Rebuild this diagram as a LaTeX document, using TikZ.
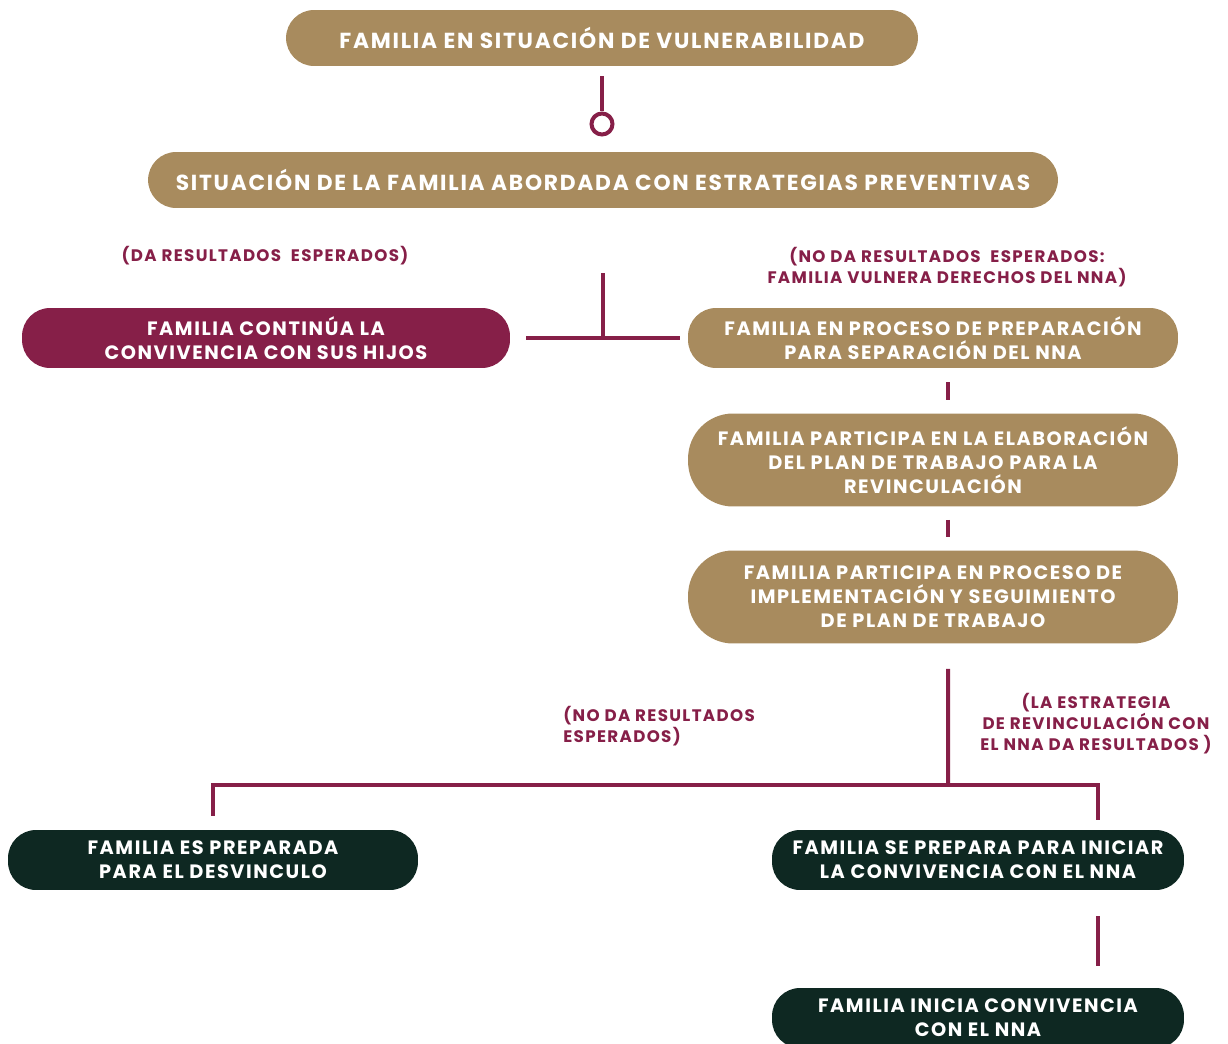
\documentclass[tikz,border=0pt]{standalone}
\usepackage{fontspec}
\setmainfont{Poppins}
\newfontfamily\cajafont{Poppins}[LetterSpace=8]
\usetikzlibrary{calc}
\definecolor{oro}{RGB}{168,139,94}
\definecolor{vino}{RGB}{134,31,72}
\definecolor{verde}{RGB}{14,40,34}
\begin{document}
\begin{tikzpicture}[x=0.02cm,y=-0.02cm,
    every node/.style={align=center, inner sep=0pt},
    caja/.style={rounded corners=0.56cm, text=white, minimum height=1.2cm,
        font=\cajafont\bfseries\fontsize{11}{13.6}\selectfont},
    titulo/.style={caja, fill=oro, minimum height=1.12cm,
        font=\cajafont\bfseries\fontsize{12.4}{13.6}\selectfont},
    cajaoro/.style={caja, fill=oro},
    cajavino/.style={caja, fill=vino},
    cajaverde/.style={caja, fill=verde},
    nota/.style={text=vino, font=\cajafont\bfseries\fontsize{9.5}{11.9}\selectfont},
    linea/.style={draw=vino, line width=0.08cm},
    anillo/.style={circle, draw=vino, line width=0.08cm, fill=white, minimum size=0.42cm}]
    \useasboundingbox (0,0) rectangle (1228,1044);

    \node[titulo, minimum width=12.64cm] (t1) at (602,38)
        {FAMILIA EN SITUACIÓN DE VULNERABILIDAD};
    \node[titulo, minimum width=18.2cm] (t2) at (603,180)
        {SITUACIÓN DE LA FAMILIA ABORDADA CON ESTRATEGIAS PREVENTIVAS};
    \node[anillo] (r1) at (602,124) {};
    \draw[linea, shorten <=0.2cm] (t1.south) -- (r1.north);

    \node[nota] (n1) at (265,256) {(DA RESULTADOS\ \ ESPERADOS)};
    \node[nota] (n2) at (947,267) {(NO DA RESULTADOS\ \ ESPERADOS:\\FAMILIA VULNERA DERECHOS DEL NNA)};

    \node[cajavino, minimum width=9.76cm] (f1) at (266,338)
        {FAMILIA CONTINÚA LA\\CONVIVENCIA CON SUS HIJOS};
    \node[cajaoro, minimum width=9.8cm] (f2) at (933,338)
        {FAMILIA EN PROCESO DE PREPARACIÓN\\PARA SEPARACIÓN DEL NNA};
    \node[cajaoro, minimum width=9.8cm, minimum height=1.86cm, rounded corners=0.9cm] (f3) at (933,460)
        {FAMILIA PARTICIPA EN LA ELABORACIÓN\\DEL PLAN DE TRABAJO PARA LA\\REVINCULACIÓN};
    \node[cajaoro, minimum width=9.8cm, minimum height=1.86cm, rounded corners=0.9cm] (f4) at (933,597)
        {FAMILIA PARTICIPA EN PROCESO DE\\IMPLEMENTACIÓN Y SEGUIMIENTO\\DE PLAN DE TRABAJO};

    \draw[linea, shorten <=1.3cm] (t2.south) -- (t2.south |- f1.east);
    \draw[linea, shorten <=0.32cm, shorten >=0.16cm] (f1.east) -- (f2.west);
    \draw[linea, shorten <=0.28cm, shorten >=0.26cm] ([xshift=0.3cm]f2.south) -- ([xshift=0.3cm]f3.north);
    \draw[linea, shorten <=0.26cm, shorten >=0.26cm] ([xshift=0.3cm]f3.south) -- ([xshift=0.3cm]f4.north);

    \node[nota, align=left, anchor=west] (n3) at (563,726) {(NO DA RESULTADOS\\ESPERADOS)};
    \node[nota] (n4) at (1096,724) {(LA ESTRATEGIA\\DE REVINCULACIÓN CON\\EL NNA DA RESULTADOS )};

    \node[cajaverde, minimum width=8.2cm] (d1) at (213,860)
        {FAMILIA ES PREPARADA\\PARA EL DESVINCULO};
    \node[cajaverde, minimum width=8.24cm] (d2) at (978,860)
        {FAMILIA SE PREPARA PARA INICIAR\\LA CONVIVENCIA CON EL NNA};
    \node[cajaverde, minimum width=8.24cm] (d3) at (978,1018)
        {FAMILIA INICIA CONVIVENCIA\\CON EL NNA};

    \coordinate (rama) at (948,785);
    \draw[linea, shorten <=0.5cm] ([xshift=0.3cm]f4.south) -- (rama);
    \draw[linea, shorten <=0.28cm, shorten >=0.2cm] (d1.north) |- (rama) -| ([xshift=2.4cm]d2.north);
    \draw[linea, shorten <=0.52cm, shorten >=0.44cm] ([xshift=2.4cm]d2.south) -- ([xshift=2.4cm]d3.north);
\end{tikzpicture}
\end{document}
